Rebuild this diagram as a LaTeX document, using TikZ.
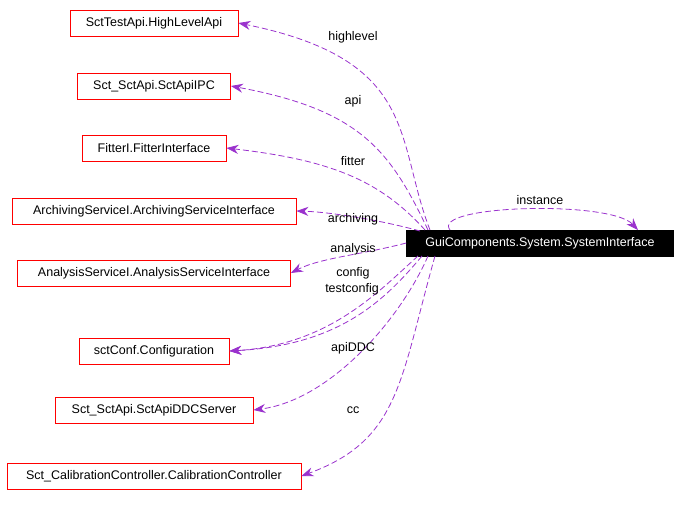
\documentclass[tikz,border=0pt]{standalone}
\usepackage{fontspec}
\setmainfont{Liberation Sans}
\usetikzlibrary{arrows.meta}
\definecolor{edgepurple}{RGB}{154,50,205}
\begin{document}
\begin{tikzpicture}[x=1pt, y=-1pt]
        % ================= styles =================
        \tikzset{
            % red framed class box
            cls/.style={draw=red, line width=0.8pt, fill=white, inner sep=0pt, minimum height=26pt, font=\fontsize{12.5}{14}\selectfont},
            % the documented class
            main/.style={draw=black, fill=black, text=white, inner sep=0pt, minimum height=26pt, font=\fontsize{12.5}{14}\selectfont},
            % dashed usage edge
            use/.style={line width=0.8pt, dash pattern=on 6pt off 3pt, color=edgepurple, -{Stealth[length=12pt, width=9pt]}},
            lbl/.style={font=\fontsize{12.5}{14}\selectfont}
        }
        \useasboundingbox (0,0) rectangle (681,507);

        % ================= nodes =================
        \node[cls, minimum width=168pt] (hla) at (154,23) {SctTestApi.HighLevelApi};
        \node[cls, minimum width=153pt] (ipc) at (154,86) {Sct\_SctApi.SctApiIPC};
        \node[cls, minimum width=144pt] (fit) at (154,148) {FitterI.FitterInterface};
        \node[cls, minimum width=284pt] (arc) at (154,211) {ArchivingServiceI.ArchivingServiceInterface};
        \node[cls, minimum width=273pt] (ana) at (154,273) {AnalysisServiceI.AnalysisServiceInterface};
        \node[cls, minimum width=150pt] (cnf) at (154,351) {sctConf.Configuration};
        \node[cls, minimum width=198pt] (ddc) at (154,410) {Sct\_SctApi.SctApiDDCServer};
        \node[cls, minimum width=294pt] (cal) at (154,476) {Sct\_CalibrationController.CalibrationController};
        \node[main, minimum width=267pt] (sys) at (540,243) {GuiComponents.System.SystemInterface};

        % ================= edges =================
        \draw[use] (430,230) .. controls (395,140) and (420,60) .. (hla.east);
        \draw[use] (428,230) .. controls (390,150) and (360,110) .. (ipc.east);
        \draw[use] (425,230) .. controls (380,180) and (330,160) .. (fit.east);
        \draw[use] (420,231) .. controls (380,220) and (330,212) .. (arc.east);
        \draw[use] (sys.west) .. controls (360,255) and (320,258) .. (ana.east);
        \draw[use] (418,256) .. controls (380,290) and (330,345) .. (cnf.east);
        \draw[use] (422,256) .. controls (385,300) and (340,345) .. (cnf.east);
        \draw[use] (428,256) .. controls (400,320) and (330,400) .. (ddc.east);
        \draw[use] (435,256) .. controls (400,380) and (400,440) .. (cal.east);
        \draw[use] (450,230) .. controls (430,205) and (610,200) .. (638,230);

        % ================= labels =================
        \node[lbl] (l1) at (353,37) {highlevel};
        \node[lbl] (l2) at (353,101) {api};
        \node[lbl] (l3) at (353,161) {fitter};
        \node[lbl] (l4) at (353,219) {archiving};
        \node[lbl] (l5) at (353,249) {analysis};
        \node[lbl] (l6) at (353,273) {config};
        \node[lbl] (l7) at (352,289) {testconfig};
        \node[lbl] (l8) at (353,348) {apiDDC};
        \node[lbl] (l9) at (353,410) {cc};
        \node[lbl] (l10) at (540,200) {instance};
\end{tikzpicture}
\end{document}
